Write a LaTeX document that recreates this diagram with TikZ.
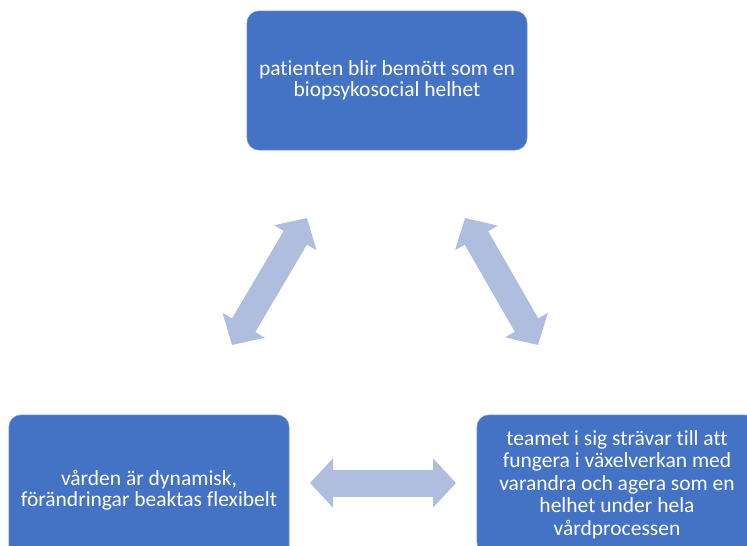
\documentclass[tikz,border=0pt]{standalone}
\usepackage{fontspec}
\setmainfont{Carlito}[Ligatures=NoCommon]
\usetikzlibrary{arrows.meta}
\definecolor{boxblue}{HTML}{4472C4}
\definecolor{arrblue}{HTML}{AFBDDF}
\tikzset{
  infobox/.style={rectangle, rounded corners=12pt, fill=boxblue, draw=boxblue!80!white, line width=0.6pt,
    minimum width=280pt, minimum height=139pt, text=white, align=center,
    font=\fontsize{21.5pt}{21pt}\selectfont, inner sep=0pt},
  fatarrow/.style={draw=arrblue, line width=27pt,
    {Triangle[length=23pt,width=48pt]}-{Triangle[length=23pt,width=48pt]}}
}
\begin{document}
\begin{tikzpicture}[x=1pt,y=-1pt]
\path[use as bounding box, clip] (0,0) rectangle (747,546);
\node[infobox] (top) at (387,80.5) {patienten blir bemött som en\\biopsykosocial helhet};
\node[infobox, minimum height=151pt] (left) at (149,490.5) {vården är dynamisk,\\förändringar beaktas flexibelt};
\node[infobox, font=\fontsize{21.5pt}{22.5pt}\selectfont] (right) at (617,484.5) {teamet i sig strävar till att\\fungera i växelverkan med\\varandra och agera som en\\helhet under hela\\vårdprocessen};
\coordinate (a1) at (232,345);
\coordinate (a2) at (307,218);
\coordinate (b1) at (465,218);
\coordinate (b2) at (538,345);
\coordinate (c1) at (310,483);
\coordinate (c2) at (456,483);
\draw[fatarrow] (a1) -- (a2);
\draw[fatarrow] (b1) -- (b2);
\draw[fatarrow] (c1) -- (c2);
\end{tikzpicture}
\end{document}
